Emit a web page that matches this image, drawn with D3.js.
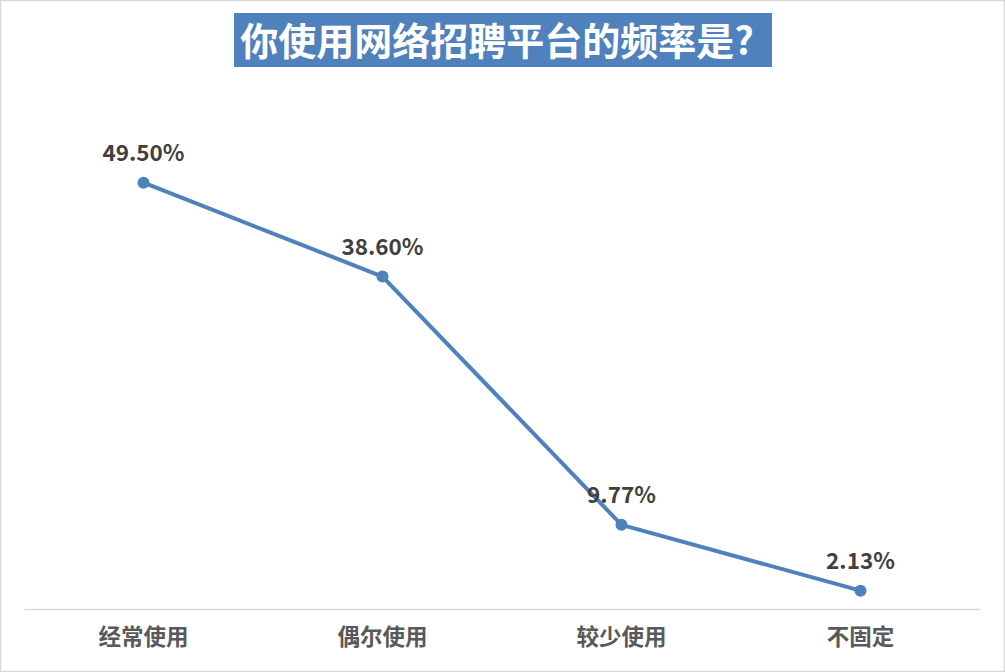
<!DOCTYPE html>
<html><head><meta charset="utf-8">
<script src="https://cdn.jsdelivr.net/npm/d3@7"></script>
<style>body{margin:0;background:#fff}svg{display:block}</style>
</head><body>
<script>
const categories = ["经常使用","偶尔使用","较少使用","不固定"];
const values = [49.5, 38.6, 9.77, 2.13];
const valueLabels = ["49.50%","38.60%","9.77%","2.13%"];
const title = "你使用网络招聘平台的频率是?";

const W = 1005, H = 672;
const font = "'Noto Sans CJK SC','Microsoft YaHei',sans-serif";
const svg = d3.select("body").append("svg").attr("width", W).attr("height", H);
svg.append("rect").attr("x",0.5).attr("y",0.5).attr("width",W-1).attr("height",H-1)
  .attr("fill","#fff").attr("stroke","#d9d9d9").attr("stroke-width",1.5);

const x = d3.scaleBand().domain(categories).range([24, 980]);
const y = d3.scaleLinear().domain([0, 60]).range([609, 92.2]);

// title
svg.append("rect").attr("x",234).attr("y",13).attr("width",538).attr("height",54).attr("fill","#4F81BD");
svg.append("text").attr("x",497).attr("y",55).attr("text-anchor","middle")
  .attr("font-family",font).attr("font-weight","bold").attr("font-size",38).attr("fill","#fff")
  .text(title);

// axis
const ax = svg.append("g").attr("transform","translate(0,609)")
  .call(d3.axisBottom(x).tickSize(0).tickPadding(20));
ax.select(".domain").attr("stroke","#d9d9d9").attr("stroke-width",1.5);
ax.selectAll("text").attr("font-family",font).attr("font-weight","bold").attr("font-size",22.5)
  .attr("fill","#595959").attr("dy","0.71em").attr("y",20);

const cx = d => x(d) + x.bandwidth()/2;
const data = categories.map((c,i)=>({c, v:values[i], l:valueLabels[i]}));

svg.append("path").datum(data)
  .attr("d", d3.line().x(d=>cx(d.c)).y(d=>y(d.v)))
  .attr("fill","none").attr("stroke","#4F81BD").attr("stroke-width",4).attr("stroke-linejoin","round");

svg.selectAll("circle.pt").data(data).join("circle")
  .attr("cx",d=>cx(d.c)).attr("cy",d=>y(d.v)).attr("r",6).attr("fill","#4F81BD");

svg.selectAll("text.lbl").data(data).join("text").attr("class","lbl")
  .attr("x",d=>cx(d.c)).attr("y",d=>y(d.v)-22).attr("text-anchor","middle")
  .attr("font-family",font).attr("font-weight","bold").attr("font-size",22.5).attr("fill","#404040")
  .text(d=>d.l);
</script>
</body></html>
